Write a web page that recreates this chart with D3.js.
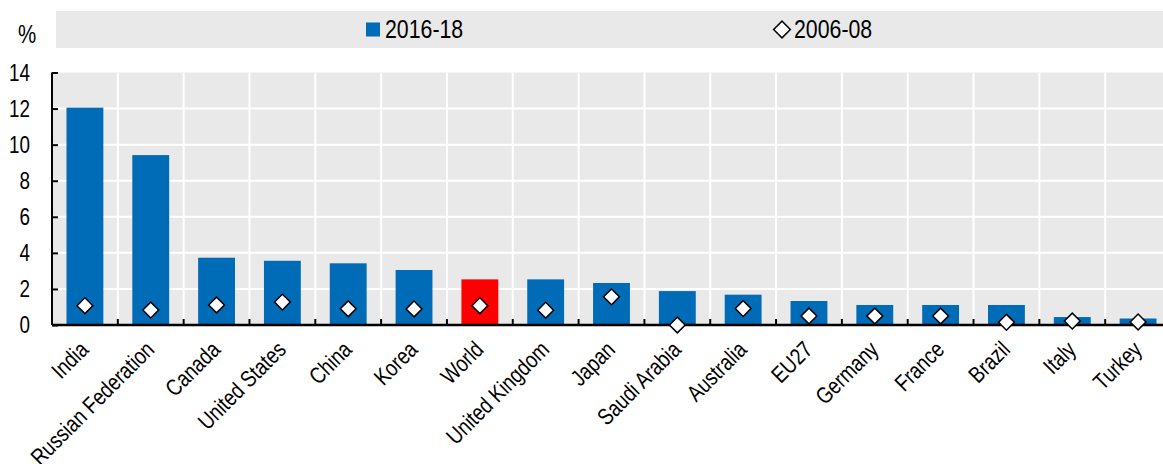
<!DOCTYPE html>
<html>
<head>
<meta charset="utf-8">
<script src="https://cdn.jsdelivr.net/npm/d3@7"></script>
<style>
  html, body { margin: 0; padding: 0; background: #fff; }
  svg { display: block; }
</style>
</head>
<body>
<svg id="chart" width="1163" height="464"></svg>
<script>
const categories = ["India","Russian Federation","Canada","United States","China","Korea","World","United Kingdom","Japan","Saudi Arabia","Australia","EU27","Germany","France","Brazil","Italy","Turkey"];
const values2016_18 = [12.05, 9.42, 3.73, 3.56, 3.42, 3.05, 2.53, 2.53, 2.33, 1.88, 1.68, 1.33, 1.11, 1.11, 1.11, 0.44, 0.36];
const values2006_08 = [1.07, 0.83, 1.11, 1.27, 0.90, 0.89, 1.07, 0.82, 1.56, 0.00, 0.91, 0.50, 0.50, 0.50, 0.15, 0.22, 0.17];
const yTicks = [0, 2, 4, 6, 8, 10, 12, 14];
const seriesNames = ["2016-18", "2006-08"];
const highlightCategory = "World";
const unitLabel = "%";

function hasFont(name) {
  const c = document.createElement("canvas").getContext("2d");
  const s = "Russian Federation 2016-18 %";
  c.font = "40px monospace";
  const a = c.measureText(s).width;
  c.font = '40px "' + name + '", monospace';
  return Math.abs(c.measureText(s).width - a) > 0.5;
}
const narrow = hasFont("Liberation Sans Narrow");
const FONT = narrow ? '"Liberation Sans Narrow", "Arial Narrow", sans-serif' : '"Liberation Sans", Arial, sans-serif';
const SX = narrow ? 1 : 0.82;

const BLUE = "#006bb6", RED = "#ff0000", GREY = "#e9e9e9";
const svg = d3.select("#chart");

const x = d3.scaleBand().domain(categories).range([52, 1171]).padding(0);
const y = d3.scaleLinear().domain([0, 14]).range([325, 72.5]);
const barW = x.bandwidth() * 0.56;

// plot background
svg.append("rect").attr("x", x.range()[0]).attr("y", y(14))
  .attr("width", x.range()[1] - x.range()[0]).attr("height", y(0) - y(14)).attr("fill", GREY);

// horizontal gridlines
svg.append("g").selectAll("line").data(yTicks.filter(t => t > 0 && t < 14)).join("line")
  .attr("x1", x.range()[0]).attr("x2", x.range()[1])
  .attr("y1", d => y(d)).attr("y2", d => y(d))
  .attr("stroke", "#fff").attr("stroke-width", 2);

// vertical gridlines at category boundaries
svg.append("g").selectAll("line").data(categories.slice(1)).join("line")
  .attr("x1", d => x(d)).attr("x2", d => x(d))
  .attr("y1", y(14)).attr("y2", y(0))
  .attr("stroke", "#fff").attr("stroke-width", 2);

// bars
svg.append("g").selectAll("rect").data(categories).join("rect")
  .attr("x", d => x(d) + x.bandwidth() / 2 - barW / 2)
  .attr("width", barW)
  .attr("y", (d, i) => y(values2016_18[i]))
  .attr("height", (d, i) => y(0) - y(values2016_18[i]))
  .attr("fill", d => d === highlightCategory ? RED : BLUE);

// x axis
const xAxis = d3.axisBottom(x).tickSize(0).tickFormat("");
const gx = svg.append("g").attr("transform", `translate(0,${y(0)})`).call(xAxis);
gx.select(".domain").attr("stroke", "#000").attr("stroke-width", 2.5).attr("d", `M${x.range()[0]},0H${x.range()[1]}`);
// inward ticks at boundaries
svg.append("g").selectAll("line").data(categories.slice(1)).join("line")
  .attr("x1", d => x(d)).attr("x2", d => x(d))
  .attr("y1", y(0)).attr("y2", y(0) - 6)
  .attr("stroke", "#000").attr("stroke-width", 2);

// y axis
const yAxis = d3.axisLeft(y).tickValues(yTicks).tickSize(-6).tickFormat("");
const gy = svg.append("g").attr("transform", `translate(${x.range()[0]},0)`).call(yAxis);
gy.select(".domain").attr("stroke", "#000").attr("stroke-width", 2).attr("d", `M0,${y(14)}V${y(0)}`);
gy.selectAll(".tick line").attr("stroke", "#000").attr("stroke-width", 2);

// y tick labels
svg.append("g").selectAll("text").data(yTicks).join("text")
  .attr("transform", d => `translate(30,${y(d)}) scale(${SX},1)`)
  .attr("dy", "0.36em")
  .attr("text-anchor", "end")
  .style("font-family", FONT).style("font-size", "23px").attr("fill", "#000")
  .text(d => d);

// x labels
svg.append("g").selectAll("text").data(categories).join("text")
  .attr("transform", d => `translate(${x(d) + x.bandwidth() / 2 + 5},351) rotate(-45) scale(${SX},1)`)
  .attr("text-anchor", "end")
  .style("font-family", FONT).style("font-size", "23px").attr("fill", "#000")
  .text(d => d);

// diamonds
const diamond = d3.symbol().type(d3.symbolSquare).size(125);
svg.append("g").selectAll("path").data(categories).join("path")
  .attr("d", diamond)
  .attr("transform", (d, i) => `translate(${x(d) + x.bandwidth() / 2},${y(values2006_08[i])}) rotate(45)`)
  .attr("fill", "#fff").attr("stroke", "#000").attr("stroke-width", 1.5);

// unit label
svg.append("text").attr("transform", `translate(18,43) scale(${SX},1)`)
  .style("font-family", FONT).style("font-size", "25px").attr("fill", "#000").text(unitLabel);

// legend
svg.append("rect").attr("x", 56).attr("y", 11).attr("width", 1163 - 56).attr("height", 37).attr("fill", GREY);
svg.append("rect").attr("x", 366).attr("y", 22.5).attr("width", 14).attr("height", 14).attr("fill", BLUE);
svg.append("text").attr("transform", `translate(385,38) scale(${SX},1)`)
  .style("font-family", FONT).style("font-size", "26px").attr("fill", "#000").text(seriesNames[0]);
svg.append("path").attr("d", d3.symbol().type(d3.symbolSquare).size(140))
  .attr("transform", "translate(782,29.5) rotate(45)")
  .attr("fill", "#fff").attr("stroke", "#000").attr("stroke-width", 1.5);
svg.append("text").attr("transform", `translate(794,38) scale(${SX},1)`)
  .style("font-family", FONT).style("font-size", "26px").attr("fill", "#000").text(seriesNames[1]);
</script>
</body>
</html>
